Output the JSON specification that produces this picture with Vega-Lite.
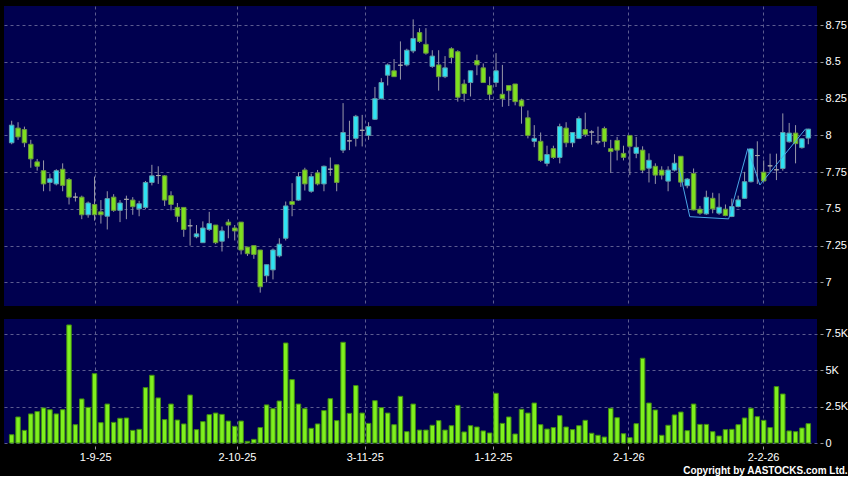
{
  "$schema": "https://vega.github.io/schema/vega-lite/v6.json",
  "background": "black",
  "padding": {"left": 4, "top": 6, "right": 0, "bottom": 0},
  "spacing": 13,
  "title": {"text": "Copyright by AASTOCKS.com Ltd.", "orient": "bottom", "anchor": "end", "frame": "bounds", "color": "white", "font": "Liberation Sans", "fontSize": 10, "fontWeight": "bold", "offset": 4},
  "datasets": {
    "px": [
      {"n":0,"o":7.95,"h":8.10,"l":7.94,"c":8.07,"v":570},
      {"n":1,"o":8.05,"h":8.09,"l":7.97,"c":7.99,"v":1790},
      {"n":2,"o":8.04,"h":8.06,"l":7.92,"c":7.95,"v":870},
      {"n":3,"o":7.94,"h":7.97,"l":7.78,"c":7.84,"v":2000},
      {"n":4,"o":7.82,"h":7.84,"l":7.76,"c":7.79,"v":2160},
      {"n":5,"o":7.76,"h":7.83,"l":7.62,"c":7.67,"v":2410},
      {"n":6,"o":7.68,"h":7.74,"l":7.62,"c":7.705,"v":2290},
      {"n":7,"o":7.67,"h":7.77,"l":7.66,"c":7.76,"v":2000},
      {"n":8,"o":7.77,"h":7.81,"l":7.62,"c":7.66,"v":2290},
      {"n":9,"o":7.70,"h":7.71,"l":7.53,"c":7.58,"v":8120},
      {"n":10,"o":7.58,"h":7.61,"l":7.55,"c":7.58,"v":1260},
      {"n":11,"o":7.58,"h":7.59,"l":7.43,"c":7.46,"v":3030},
      {"n":12,"o":7.46,"h":7.55,"l":7.44,"c":7.54,"v":2450},
      {"n":13,"o":7.53,"h":7.72,"l":7.42,"c":7.46,"v":4770},
      {"n":14,"o":7.48,"h":7.56,"l":7.40,"c":7.46,"v":1400},
      {"n":15,"o":7.45,"h":7.62,"l":7.36,"c":7.57,"v":2680},
      {"n":16,"o":7.58,"h":7.60,"l":7.48,"c":7.49,"v":1420},
      {"n":17,"o":7.49,"h":7.56,"l":7.41,"c":7.54,"v":1700},
      {"n":18,"o":7.565,"h":7.59,"l":7.43,"c":7.565,"v":1720},
      {"n":19,"o":7.56,"h":7.58,"l":7.46,"c":7.515,"v":870},
      {"n":20,"o":7.50,"h":7.555,"l":7.45,"c":7.535,"v":940},
      {"n":21,"o":7.51,"h":7.69,"l":7.50,"c":7.68,"v":3810},
      {"n":22,"o":7.68,"h":7.80,"l":7.66,"c":7.725,"v":4660},
      {"n":23,"o":7.727,"h":7.79,"l":7.67,"c":7.727,"v":3100},
      {"n":24,"o":7.725,"h":7.73,"l":7.52,"c":7.56,"v":1610},
      {"n":25,"o":7.59,"h":7.62,"l":7.49,"c":7.53,"v":2680},
      {"n":26,"o":7.51,"h":7.54,"l":7.41,"c":7.45,"v":1580},
      {"n":27,"o":7.51,"h":7.51,"l":7.31,"c":7.36,"v":1310},
      {"n":28,"o":7.385,"h":7.43,"l":7.25,"c":7.385,"v":3300},
      {"n":29,"o":7.31,"h":7.39,"l":7.30,"c":7.33,"v":920},
      {"n":30,"o":7.27,"h":7.415,"l":7.27,"c":7.37,"v":1470},
      {"n":31,"o":7.36,"h":7.48,"l":7.35,"c":7.40,"v":1950},
      {"n":32,"o":7.39,"h":7.39,"l":7.26,"c":7.27,"v":2060},
      {"n":33,"o":7.28,"h":7.38,"l":7.21,"c":7.35,"v":1970},
      {"n":34,"o":7.41,"h":7.43,"l":7.30,"c":7.39,"v":1510},
      {"n":35,"o":7.37,"h":7.39,"l":7.285,"c":7.35,"v":1150},
      {"n":36,"o":7.41,"h":7.41,"l":7.19,"c":7.22,"v":1510},
      {"n":37,"o":7.24,"h":7.24,"l":7.18,"c":7.195,"v":115},
      {"n":38,"o":7.25,"h":7.25,"l":7.16,"c":7.19,"v":250},
      {"n":39,"o":7.22,"h":7.22,"l":6.93,"c":6.97,"v":1060},
      {"n":40,"o":7.045,"h":7.12,"l":7.00,"c":7.12,"v":2620},
      {"n":41,"o":7.085,"h":7.23,"l":7.02,"c":7.22,"v":2360},
      {"n":42,"o":7.18,"h":7.30,"l":7.17,"c":7.26,"v":2890},
      {"n":43,"o":7.30,"h":7.55,"l":7.285,"c":7.52,"v":6880},
      {"n":44,"o":7.55,"h":7.675,"l":7.45,"c":7.53,"v":4360},
      {"n":45,"o":7.56,"h":7.75,"l":7.555,"c":7.72,"v":2680},
      {"n":46,"o":7.765,"h":7.78,"l":7.625,"c":7.67,"v":2360},
      {"n":47,"o":7.62,"h":7.74,"l":7.61,"c":7.72,"v":1010},
      {"n":48,"o":7.745,"h":7.765,"l":7.66,"c":7.67,"v":1310},
      {"n":49,"o":7.67,"h":7.795,"l":7.62,"c":7.79,"v":2230},
      {"n":50,"o":7.77,"h":7.85,"l":7.725,"c":7.77,"v":3050},
      {"n":51,"o":7.80,"h":7.80,"l":7.62,"c":7.68,"v":1540},
      {"n":52,"o":7.90,"h":8.22,"l":7.88,"c":8.02,"v":6930},
      {"n":53,"o":7.963,"h":8.10,"l":7.90,"c":7.963,"v":2040},
      {"n":54,"o":7.98,"h":8.14,"l":7.925,"c":8.13,"v":3950},
      {"n":55,"o":8.035,"h":8.14,"l":7.925,"c":8.035,"v":2060},
      {"n":56,"o":8.00,"h":8.09,"l":7.97,"c":8.06,"v":1350},
      {"n":57,"o":8.11,"h":8.33,"l":8.105,"c":8.25,"v":2910},
      {"n":58,"o":8.25,"h":8.39,"l":8.245,"c":8.36,"v":2430},
      {"n":59,"o":8.41,"h":8.49,"l":8.34,"c":8.48,"v":2060},
      {"n":60,"o":8.44,"h":8.52,"l":8.40,"c":8.40,"v":1260},
      {"n":61,"o":8.478,"h":8.64,"l":8.38,"c":8.478,"v":3210},
      {"n":62,"o":8.48,"h":8.59,"l":8.47,"c":8.58,"v":780},
      {"n":63,"o":8.575,"h":8.79,"l":8.56,"c":8.66,"v":2680},
      {"n":64,"o":8.70,"h":8.73,"l":8.63,"c":8.64,"v":890},
      {"n":65,"o":8.62,"h":8.73,"l":8.55,"c":8.56,"v":890},
      {"n":66,"o":8.47,"h":8.58,"l":8.46,"c":8.54,"v":1220},
      {"n":67,"o":8.48,"h":8.58,"l":8.305,"c":8.40,"v":1540},
      {"n":68,"o":8.40,"h":8.54,"l":8.39,"c":8.46,"v":890},
      {"n":69,"o":8.59,"h":8.60,"l":8.49,"c":8.53,"v":1190},
      {"n":70,"o":8.57,"h":8.58,"l":8.23,"c":8.26,"v":2590},
      {"n":71,"o":8.35,"h":8.38,"l":8.23,"c":8.285,"v":760},
      {"n":72,"o":8.36,"h":8.44,"l":8.265,"c":8.44,"v":1190},
      {"n":73,"o":8.51,"h":8.55,"l":8.41,"c":8.48,"v":1100},
      {"n":74,"o":8.46,"h":8.49,"l":8.36,"c":8.36,"v":830},
      {"n":75,"o":8.34,"h":8.40,"l":8.24,"c":8.28,"v":690},
      {"n":76,"o":8.36,"h":8.56,"l":8.33,"c":8.44,"v":3420},
      {"n":77,"o":8.28,"h":8.48,"l":8.195,"c":8.25,"v":1350},
      {"n":78,"o":8.34,"h":8.34,"l":8.20,"c":8.305,"v":1790},
      {"n":79,"o":8.35,"h":8.35,"l":8.205,"c":8.23,"v":620},
      {"n":80,"o":8.24,"h":8.25,"l":8.08,"c":8.20,"v":2320},
      {"n":81,"o":8.12,"h":8.17,"l":7.98,"c":8.00,"v":2060},
      {"n":82,"o":7.96,"h":8.07,"l":7.92,"c":7.98,"v":2750},
      {"n":83,"o":7.96,"h":8.02,"l":7.82,"c":7.83,"v":1260},
      {"n":84,"o":7.81,"h":7.93,"l":7.79,"c":7.87,"v":960},
      {"n":85,"o":7.91,"h":7.93,"l":7.84,"c":7.85,"v":1060},
      {"n":86,"o":7.85,"h":8.08,"l":7.81,"c":8.06,"v":1880},
      {"n":87,"o":8.05,"h":8.09,"l":7.92,"c":7.95,"v":1100},
      {"n":88,"o":7.95,"h":8.02,"l":7.92,"c":8.02,"v":920},
      {"n":89,"o":7.98,"h":8.13,"l":7.975,"c":8.115,"v":1190},
      {"n":90,"o":8.04,"h":8.155,"l":7.99,"c":8.007,"v":1560},
      {"n":91,"o":8.023,"h":8.036,"l":7.937,"c":8.023,"v":670},
      {"n":92,"o":7.956,"h":8.06,"l":7.94,"c":7.956,"v":530},
      {"n":93,"o":8.047,"h":8.06,"l":7.92,"c":7.96,"v":410},
      {"n":94,"o":7.91,"h":7.97,"l":7.745,"c":7.89,"v":2390},
      {"n":95,"o":7.966,"h":7.99,"l":7.83,"c":7.90,"v":1740},
      {"n":96,"o":7.878,"h":7.93,"l":7.83,"c":7.851,"v":640},
      {"n":97,"o":8.00,"h":8.00,"l":7.73,"c":7.926,"v":370},
      {"n":98,"o":7.878,"h":7.99,"l":7.845,"c":7.919,"v":1330},
      {"n":99,"o":7.90,"h":7.926,"l":7.743,"c":7.764,"v":5830},
      {"n":100,"o":7.777,"h":7.878,"l":7.68,"c":7.831,"v":2750},
      {"n":101,"o":7.79,"h":7.81,"l":7.67,"c":7.73,"v":2270},
      {"n":102,"o":7.764,"h":7.79,"l":7.70,"c":7.73,"v":530},
      {"n":103,"o":7.689,"h":7.79,"l":7.62,"c":7.764,"v":1220},
      {"n":104,"o":7.764,"h":7.872,"l":7.755,"c":7.811,"v":1930},
      {"n":105,"o":7.858,"h":7.86,"l":7.65,"c":7.682,"v":2130},
      {"n":106,"o":7.658,"h":7.71,"l":7.64,"c":7.703,"v":850},
      {"n":107,"o":7.741,"h":7.775,"l":7.49,"c":7.493,"v":2680},
      {"n":108,"o":7.498,"h":7.52,"l":7.46,"c":7.471,"v":1280},
      {"n":109,"o":7.466,"h":7.624,"l":7.46,"c":7.579,"v":1280},
      {"n":110,"o":7.572,"h":7.61,"l":7.47,"c":7.50,"v":780},
      {"n":111,"o":7.471,"h":7.606,"l":7.46,"c":7.511,"v":480},
      {"n":112,"o":7.498,"h":7.53,"l":7.45,"c":7.455,"v":920},
      {"n":113,"o":7.448,"h":7.57,"l":7.444,"c":7.516,"v":940},
      {"n":114,"o":7.516,"h":7.59,"l":7.51,"c":7.561,"v":1260},
      {"n":115,"o":7.572,"h":7.752,"l":7.57,"c":7.685,"v":1720},
      {"n":116,"o":7.685,"h":7.91,"l":7.68,"c":7.908,"v":2390},
      {"n":117,"o":7.863,"h":7.96,"l":7.67,"c":7.863,"v":1810},
      {"n":118,"o":7.75,"h":7.83,"l":7.685,"c":7.69,"v":1560},
      {"n":119,"o":7.793,"h":7.876,"l":7.752,"c":7.793,"v":1060},
      {"n":120,"o":7.766,"h":7.876,"l":7.696,"c":7.766,"v":3880},
      {"n":121,"o":7.775,"h":8.15,"l":7.76,"c":8.02,"v":3370},
      {"n":122,"o":7.957,"h":8.085,"l":7.95,"c":8.016,"v":830},
      {"n":123,"o":8.016,"h":8.07,"l":7.81,"c":7.944,"v":780},
      {"n":124,"o":7.917,"h":7.98,"l":7.91,"c":7.977,"v":1030},
      {"n":125,"o":7.982,"h":8.045,"l":7.94,"c":8.043,"v":1330}
    ],
    "pat": [
      {"n":104.7,"p":7.78},
      {"n":106.4,"p":7.447},
      {"n":112.5,"p":7.432},
      {"n":115.5,"p":7.91},
      {"n":117.4,"p":7.663},
      {"n":124.6,"p":8.046}
    ]
  },
  "config": {
    "view": {"fill": "#00004f", "stroke": null},
    "axis": {"labelColor": "white", "labelFont": "Liberation Sans", "labelFontSize": 11, "tickColor": "#9a9a9a", "gridColor": "#5c5c90", "gridDash": [3, 3], "gridWidth": 1, "domain": false, "title": null}
  },
  "vconcat": [
    {
      "width": 813,
      "height": 300,
      "data": {"name": "px"},
      "layer": [
        {
          "mark": {"type": "rule", "color": "#9898a8", "strokeWidth": 1},
          "encoding": {
            "x": {"field": "n", "type": "quantitative", "scale": {"domain": [-0.42, 125.58], "nice": false, "zero": false},
                  "axis": {"values": [13.1, 35.35, 55.4, 75.5, 96.75, 117.9], "labels": false, "ticks": false, "grid": true}},
            "y": {"field": "l", "type": "quantitative", "scale": {"domain": [6.839, 8.881], "nice": false, "zero": false},
                  "axis": {"orient": "right", "values": [7, 7.25, 7.5, 7.75, 8, 8.25, 8.5, 8.75], "labelExpr": "format(datum.value, '.4~g')", "offset": 3, "tickSize": 3, "labelPadding": 2, "grid": true}},
            "y2": {"field": "h"}
          }
        },
        {
          "mark": {"type": "bar", "size": 4.5, "strokeWidth": 1},
          "encoding": {
            "x": {"field": "n", "type": "quantitative"},
            "y": {"field": "o", "type": "quantitative"},
            "y2": {"field": "c"},
            "fill": {"condition": [{"test": "datum.c > datum.o", "value": "#2ee3f3"}, {"test": "datum.c < datum.o", "value": "#7ee01f"}], "value": "#a8a8a8"},
            "stroke": {"condition": [{"test": "datum.c > datum.o", "value": "#5f9aa8"}, {"test": "datum.c < datum.o", "value": "#6a9440"}], "value": "#a8a8a8"}
          }
        },
        {
          "data": {"name": "pat"},
          "mark": {"type": "line", "color": "#4aa6e6", "strokeWidth": 1},
          "encoding": {
            "x": {"field": "n", "type": "quantitative"},
            "y": {"field": "p", "type": "quantitative"}
          }
        }
      ]
    },
    {
      "width": 813,
      "height": 124,
      "data": {"name": "px"},
      "mark": {"type": "bar", "size": 4.5, "fill": "#7ff01e", "stroke": "#3f8a12", "strokeWidth": 1},
      "encoding": {
        "x": {"field": "n", "type": "quantitative", "scale": {"domain": [-0.42, 125.58], "nice": false, "zero": false},
              "axis": {"values": [13.1, 35.35, 55.4, 75.5, 96.75, 117.9], "grid": true, "ticks": true, "tickSize": 3, "offset": 3, "labelPadding": 2,
                       "labelExpr": "datum.value < 20 ? '1-9-25' : datum.value < 45 ? '2-10-25' : datum.value < 65 ? '3-11-25' : datum.value < 85 ? '1-12-25' : datum.value < 105 ? '2-1-26' : '2-2-26'"}},
        "y": {"field": "v", "type": "quantitative", "scale": {"domain": [0, 8530], "nice": false},
              "axis": {"orient": "right", "values": [0, 2500, 5000, 7500], "offset": 3, "tickSize": 3, "labelPadding": 2, "grid": true,
                       "labelExpr": "datum.value == 0 ? '0' : format(datum.value / 1000, '~g') + 'K'"}}
      }
    }
  ]
}
